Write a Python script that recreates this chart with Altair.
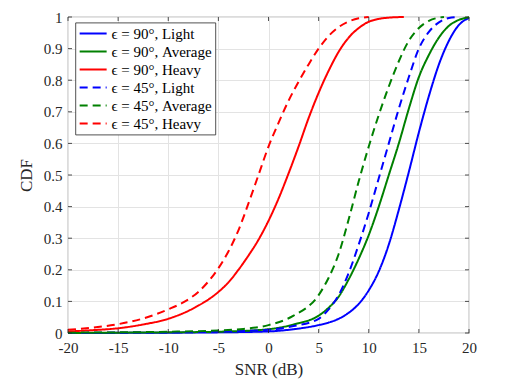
import altair as alt
import pandas as pd

# ---- data ----
series_names = ["ϵ = 90°, Light", "ϵ = 90°, Average", "ϵ = 90°, Heavy",
                "ϵ = 45°, Light", "ϵ = 45°, Average", "ϵ = 45°, Heavy"]
series_colors = ["#0000ff", "#008000", "#ff0000", "#0000ff", "#008000", "#ff0000"]
series_dashes = [[1, 0], [1, 0], [1, 0], [8, 5], [8, 5], [8, 5]]

snr_90_light = [-20, -15, -10, -5, 0, 2.5, 5, 6, 7, 8, 9, 10, 11, 12, 13, 14, 15, 16, 17, 18,
                19, 20]
cdf_90_light = [0.0, 0.0005, 0.001, 0.002, 0.005, 0.012, 0.025, 0.033, 0.045, 0.064, 0.092,
                0.135, 0.195, 0.28, 0.39, 0.51, 0.635, 0.75, 0.85, 0.925, 0.975, 0.997]

snr_90_avg = [-20, -15, -10, -5, 0, 2.5, 5, 6, 7, 8, 9, 10, 11, 12, 13, 14, 15, 16, 17, 18, 19, 20]
cdf_90_avg = [0.0, 0.001, 0.002, 0.004, 0.012, 0.027, 0.055, 0.08, 0.115, 0.17, 0.235, 0.31,
              0.4, 0.5, 0.6, 0.71, 0.81, 0.88, 0.935, 0.972, 0.991, 0.999]

snr_90_heavy = [-20, -17.5, -15, -12.5, -10, -7.5, -5, -4, -3, -2, -1, 0, 1, 2, 3, 4, 5, 6,
                7, 8, 9, 10, 11, 12, 13.5]
cdf_90_heavy = [0.005, 0.009, 0.015, 0.027, 0.045, 0.078, 0.13, 0.16, 0.2, 0.245, 0.295, 0.355,
                0.425, 0.505, 0.59, 0.68, 0.76, 0.83, 0.89, 0.935, 0.965, 0.985, 0.994, 0.998, 1.0]

snr_45_light = [-20, -15, -10, -5, 0, 2.5, 5, 6, 7, 8, 9, 10, 11, 12, 13, 14, 15, 16, 17, 18, 19]
cdf_45_light = [0.0, 0.001, 0.002, 0.004, 0.01, 0.022, 0.045, 0.075, 0.12, 0.19, 0.28, 0.38,
                0.49, 0.6, 0.71, 0.81, 0.9, 0.953, 0.983, 0.997, 1.0]

snr_45_avg = [-20, -15, -10, -5, -2.5, 0, 2.5, 5, 6, 7, 8, 9, 10, 11, 12, 13, 14, 15, 16, 17, 17.5]
cdf_45_avg = [0.001, 0.002, 0.004, 0.008, 0.013, 0.025, 0.055, 0.12, 0.175, 0.25, 0.36, 0.48,
              0.59, 0.69, 0.78, 0.86, 0.925, 0.965, 0.988, 0.998, 1.0]

snr_45_heavy = [-20, -17.5, -15, -12.5, -10, -8.5, -7, -6, -5, -4, -3, -2, -1, 0, 1, 2, 3, 4,
                5, 6, 7, 8, 9, 10]
cdf_45_heavy = [0.01, 0.017, 0.028, 0.046, 0.075, 0.097, 0.13, 0.163, 0.205, 0.258, 0.325, 0.41,
                0.5, 0.59, 0.665, 0.735, 0.795, 0.85, 0.9, 0.94, 0.968, 0.986, 0.996, 1.0]

x_ticks = [-20, -15, -10, -5, 0, 5, 10, 15, 20]
y_ticks = [0, 0.1, 0.2, 0.3, 0.4, 0.5, 0.6, 0.7, 0.8, 0.9, 1]

# ---- build table ----
snr_lists = [snr_90_light, snr_90_avg, snr_90_heavy, snr_45_light, snr_45_avg, snr_45_heavy]
cdf_lists = [cdf_90_light, cdf_90_avg, cdf_90_heavy, cdf_45_light, cdf_45_avg, cdf_45_heavy]
rows = []
for order, (name, xs, ys) in enumerate(zip(series_names, snr_lists, cdf_lists)):
    for x, y in zip(xs, ys):
        rows.append({"series": name, "snr": x, "cdf": y, "k": order})
df = pd.DataFrame(rows)

FONT = "Liberation Serif"
AX = "#262626"

xscale = alt.Scale(domain=[-20, 20], nice=False, zero=False)
yscale = alt.Scale(domain=[0, 1], nice=False)

axis_style = dict(grid=True, ticks=False, domain=False, labelFlush=False, labelOverlap=False,
                  labelFont=FONT, labelFontSize=15, labelColor=AX,
                  titleFont=FONT, titleFontSize=17, titleFontWeight="normal", titleColor=AX,
                  gridColor="#e3e3e3", gridWidth=1, gridOpacity=1,
                  labelExpr="'' + datum.value")
x_axis = alt.Axis(values=x_ticks, title="SNR (dB)", labelPadding=7, titlePadding=6, **axis_style)
y_axis = alt.Axis(values=y_ticks, title="CDF", labelPadding=6, titlePadding=8, **axis_style)

legend = alt.Legend(
    title=None, orient="none", legendX=7.4, legendY=5.6,
    fillColor="white", strokeColor=AX, padding=3,
    symbolType="M-1,0H3", symbolSize=182, symbolStrokeWidth=2,
    labelFont=FONT, labelFontSize=15, labelColor="black", labelOffset=17,
    rowPadding=2, labelLimit=300,
)

lines = alt.Chart(df).mark_line(strokeWidth=2, interpolate="monotone").encode(
    x=alt.X("snr:Q", scale=xscale, axis=x_axis, title="SNR (dB)"),
    y=alt.Y("cdf:Q", scale=yscale, axis=y_axis, title="CDF"),
    color=alt.Color("series:N", scale=alt.Scale(domain=series_names, range=series_colors),
                    legend=legend),
    strokeDash=alt.StrokeDash("series:N",
                              scale=alt.Scale(domain=series_names, range=series_dashes),
                              legend=legend),
    order=alt.Order("k:Q"),
)

# inward tick marks (MATLAB style box)
xt = pd.DataFrame({"v": x_ticks})
yt = pd.DataFrame({"v": y_ticks})
tick_len_y = 4 / 316
tick_len_x = 4 * 40 / 401

bottom_ticks = alt.Chart(xt).mark_rule(color=AX, strokeWidth=0.8).encode(
    x=alt.X("v:Q", scale=xscale, axis=x_axis, title="SNR (dB)"),
    y=alt.datum(0, scale=yscale, axis=y_axis, title="CDF"), y2=alt.datum(tick_len_y))
top_ticks = alt.Chart(xt).mark_rule(color=AX, strokeWidth=0.8).encode(
    x=alt.X("v:Q", scale=xscale, axis=x_axis, title="SNR (dB)"),
    y=alt.datum(1, scale=yscale, axis=y_axis, title="CDF"), y2=alt.datum(1 - tick_len_y))
left_ticks = alt.Chart(yt).mark_rule(color=AX, strokeWidth=0.8).encode(
    y=alt.Y("v:Q", scale=yscale, axis=y_axis, title="CDF"),
    x=alt.datum(-20, scale=xscale, axis=x_axis, title="SNR (dB)"), x2=alt.datum(-20 + tick_len_x))
right_ticks = alt.Chart(yt).mark_rule(color=AX, strokeWidth=0.8).encode(
    y=alt.Y("v:Q", scale=yscale, axis=y_axis, title="CDF"),
    x=alt.datum(20, scale=xscale, axis=x_axis, title="SNR (dB)"), x2=alt.datum(20 - tick_len_x))

chart = alt.layer(lines, bottom_ticks, top_ticks, left_ticks, right_ticks).properties(
    width=401, height=316,
    background="white",
    autosize=alt.AutoSizeParams(type="none"),
    padding={"left": 60, "top": 9, "right": 40, "bottom": 47},
).configure_view(
    stroke=AX, strokeWidth=0.8
).configure_legend(
    strokeWidth=0.8
)

chart.save("out.html", embed_options={"renderer": "svg", "actions": False})
